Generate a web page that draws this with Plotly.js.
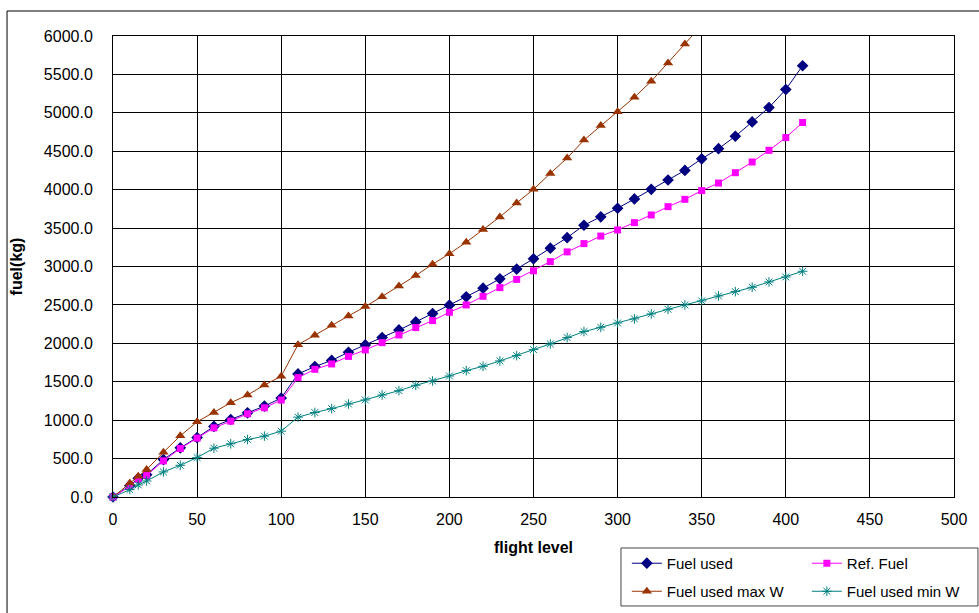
<!DOCTYPE html>
<html>
<head>
<meta charset="utf-8">
<script src="https://cdn.plot.ly/plotly-3.0.1.min.js"></script>
<style>html,body{margin:0;padding:0;background:#fff;}#chart{width:979px;height:613px;}</style>
</head>
<body>
<div id="chart"></div>
<script>
var flightLevel = [0,10,15,20,30,40,50,60,70,80,90,100,110,120,130,140,150,160,170,180,190,200,210,220,230,240,250,260,270,280,290,300,310,320,330,340,350,360,370,380,390,400,410];

var fuelUsed = [0,148,244,291,487,640,774,918,1009,1096,1183,1288,1602,1697,1778,1884,1979,2075,2174,2279,2387,2496,2605,2718,2840,2966,3100,3238,3375,3537,3647,3758,3879,4004,4126,4251,4402,4534,4695,4882,5069,5304,5613];

var refFuel = [0,139,235,283,470,631,766,900,987,1083,1161,1262,1554,1662,1732,1830,1914,2009,2109,2205,2296,2404,2500,2612,2725,2832,2944,3064,3190,3298,3396,3476,3571,3671,3779,3874,3988,4086,4221,4360,4512,4678,4874];

var fuelMaxW = [0,183,270,357,583,796,979,1100,1227,1327,1457,1572,1983,2106,2235,2357,2478,2606,2745,2882,3030,3165,3316,3480,3645,3828,4004,4212,4411,4645,4835,5013,5203,5411,5649,5896,6140,null,null,null,null,null,null];

var fuelMinW = [0,96,157,209,326,413,513,635,692,748,792,857,1039,1100,1150,1210,1263,1328,1384,1454,1510,1575,1645,1701,1771,1840,1918,1992,2075,2153,2209,2265,2318,2383,2443,2500,2552,2617,2673,2730,2799,2864,2938];

var seriesNames = ['Fuel used','Ref. Fuel','Fuel used max W','Fuel used min W'];
var xTickVals = [0,50,100,150,200,250,300,350,400,450,500];
var yTickVals = [0,500,1000,1500,2000,2500,3000,3500,4000,4500,5000,5500,6000];

var FONT = 'Liberation Sans, Arial, sans-serif';
var FS = 15;
var TFS = 16;

var traces = [
  {x: flightLevel, y: fuelUsed, name: seriesNames[0], type: 'scatter', mode: 'lines+markers',
   line: {color: '#000080', width: 1}, marker: {symbol: 'diamond', size: 9, color: '#000080'},
   cliponaxis: false, legend: 'legend'},
  {x: flightLevel, y: refFuel, name: seriesNames[1], type: 'scatter', mode: 'lines+markers',
   line: {color: '#FF00FF', width: 1}, marker: {symbol: 'square', size: 7, color: '#FF00FF'},
   cliponaxis: false, legend: 'legend'},
  {x: flightLevel, y: fuelMaxW, name: seriesNames[2], type: 'scatter', mode: 'lines+markers',
   line: {color: '#993300', width: 1}, marker: {symbol: 'triangle-up', size: 9, color: '#993300'},
   cliponaxis: true, legend: 'legend2'},
  {x: flightLevel, y: fuelMinW, name: seriesNames[3], type: 'scatter', mode: 'lines+markers',
   line: {color: '#008080', width: 1}, marker: {symbol: 'asterisk-open', size: 8, color: '#008080', line: {color: '#008080', width: 1}},
   cliponaxis: false, legend: 'legend2'}
];

var layout = {
  width: 979, height: 613,
  margin: {l: 113, r: 25, t: 36, b: 116, autoexpand: false},
  paper_bgcolor: '#ffffff', plot_bgcolor: '#ffffff',
  font: {family: FONT, size: FS, color: '#000'},
  showlegend: true,
  xaxis: {
    range: [0, 500], tickvals: xTickVals, ticktext: xTickVals.map(String),
    showgrid: true, gridcolor: '#000', gridwidth: 1,
    showline: true, linecolor: '#000', linewidth: 1, mirror: true,
    zeroline: false, ticks: '', ticklabelstandoff: 8,
    tickfont: {family: FONT, size: TFS, color: '#000'},
    title: {text: '<b>flight level</b>', font: {family: FONT, size: TFS, color: '#000'}, standoff: 14}
  },
  yaxis: {
    range: [0, 6000], tickvals: yTickVals, tickformat: '.1f',
    showgrid: true, gridcolor: '#000', gridwidth: 1,
    showline: true, linecolor: '#000', linewidth: 1, mirror: true,
    zeroline: false, ticks: '', ticklabelstandoff: 16,
    tickfont: {family: FONT, size: TFS, color: '#000'},
    title: {text: '<b>fuel(kg)</b>', font: {family: FONT, size: TFS, color: '#000'}, standoff: 17}
  },
  legend: {
    orientation: 'h', x: 0.611, xanchor: 'left', y: -0.1084, yanchor: 'top',
    bgcolor: 'rgba(0,0,0,0)', borderwidth: 0, entrywidth: 135,
    font: {family: FONT, size: FS, color: '#000'}
  },
  legend2: {
    orientation: 'h', x: 0.611, xanchor: 'left', y: -0.1692, yanchor: 'top',
    bgcolor: 'rgba(0,0,0,0)', borderwidth: 0, entrywidth: 135,
    font: {family: FONT, size: FS, color: '#000'}
  },
  shapes: [
    {type: 'rect', xref: 'paper', yref: 'paper', x0: 0.604, x1: 1.0285, y0: -0.2364, y1: -0.1106,
     line: {color: '#444', width: 1}, fillcolor: 'rgba(0,0,0,0)', layer: 'above'},
    {type: 'rect', xref: 'paper', yref: 'paper', x0: -0.126, x1: 1.2, y0: -0.4, y1: 1.0542,
     line: {color: '#000', width: 1}, fillcolor: 'rgba(0,0,0,0)', layer: 'below'}
  ]
};

Plotly.newPlot('chart', traces, layout, {displayModeBar: false, staticPlot: true});
</script>
</body>
</html>
